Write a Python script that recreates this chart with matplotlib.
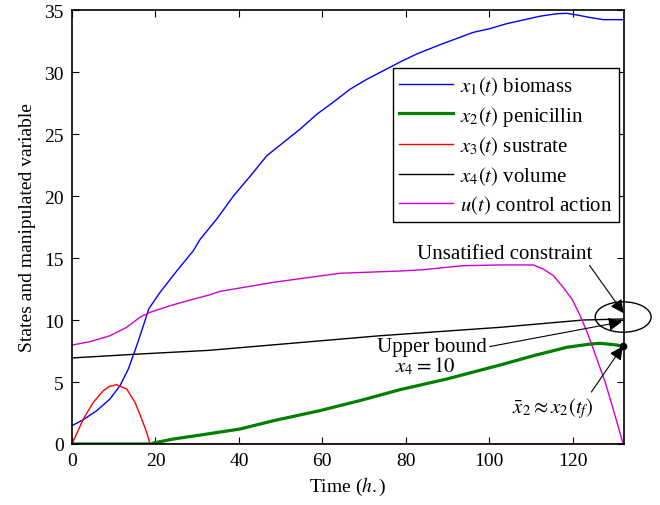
import numpy as np
import matplotlib
matplotlib.use("Agg")
import matplotlib.pyplot as plt
from matplotlib.patches import Ellipse

plt.rcParams['font.family'] = ['Liberation Serif', 'DejaVu Serif']
plt.rcParams['mathtext.fontset'] = 'stix'
plt.rcParams['font.size'] = 14

# ---- data ----
t_x1 = [0, 2.7, 5.9, 9.1, 11.5, 13.5, 15.5, 17.1, 18.4, 21.1, 25.1, 29.1, 30.7, 34.7, 38.7,
        42.7, 46.7, 50.6, 54.7, 58.7, 62.6, 66.6, 70.6, 74.6, 78.6, 82.6, 88.2, 92.2, 96.2,
        100.2, 104.2, 108.2, 112.2, 116.2, 118.6, 121.0, 124.1, 127.3, 132.1]
x1 = [1.48, 1.96, 2.68, 3.63, 4.7, 6.05, 7.92, 9.54, 10.9, 12.23, 13.95, 15.6, 16.5, 18.15, 20.0,
      21.6, 23.25, 24.3, 25.4, 26.6, 27.56, 28.6, 29.4, 30.1, 30.8, 31.45, 32.2, 32.7, 33.2,
      33.5, 33.9, 34.2, 34.5, 34.7, 34.73, 34.6, 34.4, 34.22, 34.22]

t_x2 = [0, 19.4, 19.5, 24.3, 32.3, 40.3, 48.3, 59.4, 69.0, 78.6, 89.8, 102.6, 110.6, 118.6,
        124.2, 126.6, 130.6, 132.1]
x2 = [0, 0, 0.08, 0.4, 0.8, 1.21, 1.88, 2.69, 3.5, 4.38, 5.24, 6.37, 7.12, 7.8,
      8.06, 8.12, 7.98, 7.88]

t_x3 = [0, 2.7, 5.1, 7.5, 9.0, 10.7, 13.1, 15.1, 16.7, 17.9, 18.7, 132.1]
x3 = [0, 2.0, 3.36, 4.3, 4.65, 4.78, 4.44, 3.36, 2.02, 0.94, 0, 0]

t_x4 = [0, 16.3, 32.7, 73.8, 102.6, 122.6, 132.1]
x4 = [6.94, 7.26, 7.55, 8.73, 9.41, 10.0, 10.08]

t_u = [0, 4.3, 9.1, 13.1, 16.3, 18.7, 23.5, 28.3, 32.7, 35.5, 48.3, 64.2, 78.6, 84.0, 93.7,
       102.6, 110.6, 113.0, 115.4, 117.8, 119.8, 121.8, 123.8, 125.8, 127.8, 129.7, 132.1]
u = [7.98, 8.25, 8.73, 9.41, 10.22, 10.62, 11.15, 11.61, 12.0, 12.31, 13.04, 13.77, 13.95, 14.05, 14.38,
     14.44, 14.44, 14.1, 13.57, 12.6, 11.7, 10.35, 8.73, 6.85, 4.98, 2.82, 0]

labels = [r'$x_1(t)$ biomass', r'$x_2(t)$ penicillin', r'$x_3(t)$ sustrate',
          r'$x_4(t)$ volume', r'$u(t)$ control action']
xticks = [0, 20, 40, 60, 80, 100, 120]
yticks = [0, 5, 10, 15, 20, 25, 30, 35]

fig = plt.figure(figsize=(6.6, 5.06), dpi=100)
ax = fig.add_axes([72/660, 1-445/506, (624-72)/660, (445-11)/506])

l1, = ax.plot(t_x1, x1, color='#0000ff', lw=1.0)
l2, = ax.plot(t_x2, x2, color='#008000', lw=2.3)
l3, = ax.plot(t_x3, x3, color='#ff0000', lw=1.0)
l4, = ax.plot(t_x4, x4, color='black', lw=1.0)
l5, = ax.plot(t_u, u, color='#d000d0', lw=1.0)
ax.plot([t_x2[-1]], [x2[-1]], 'o', color='black', ms=4.5, clip_on=False, zorder=5)

ax.set_xlim(0, 132.3)
ax.set_ylim(0, 35)
ax.set_xticks(xticks)
ax.set_yticks(yticks)
ax.tick_params(direction='in', top=True, right=True, length=5, width=0.8, labelsize=14, pad=6)
for s in ax.spines.values():
    s.set_linewidth(1.2)

ax.set_xlabel(r'Time ($h.$)', fontsize=14, labelpad=4)
ax.set_ylabel('States and manipulated variable', fontsize=14, labelpad=6)

leg = ax.legend([l1, l2, l3, l4, l5], labels, loc='upper right',
                bbox_to_anchor=(0.991, 0.867), borderaxespad=0, fancybox=False,
                edgecolor='black', framealpha=1, handlelength=2.6, handletextpad=0.35,
                labelspacing=0.33, borderpad=0.3, fontsize=15)
leg.get_frame().set_linewidth(1.0)

# annotations
ell = Ellipse((132.1, 10.24), 13.4, 2.45, fill=False, edgecolor='black', lw=1.0, clip_on=False)
ax.add_patch(ell)
ap = dict(arrowstyle='-|>', color='black', lw=0.8, mutation_scale=20, shrinkA=0, shrinkB=0)
ax.annotate('Unsatified constraint', xy=(132.2, 10.55), xytext=(103.8, 15.4),
            ha='center', va='center', fontsize=15, arrowprops=dict(ap, relpos=(0.97, 0.0)),
            annotation_clip=False)
ax.annotate('Upper bound', xy=(131.8, 9.86), xytext=(86.3, 7.85),
            ha='center', va='center', fontsize=15, arrowprops=dict(ap, relpos=(1.02, 0.5)),
            annotation_clip=False)
ax.text(84.6, 6.35, r'$x_4 = 10$', ha='center', va='center', fontsize=15)
ax.annotate(r'$\bar{x}_2 \approx x_2(t_f)$', xy=(132.0, 7.88), xytext=(115.2, 2.96),
            ha='center', va='center', fontsize=15, arrowprops=dict(ap, relpos=(0.95, 1.0)),
            annotation_clip=False)

fig.savefig('out.png', dpi=100)
